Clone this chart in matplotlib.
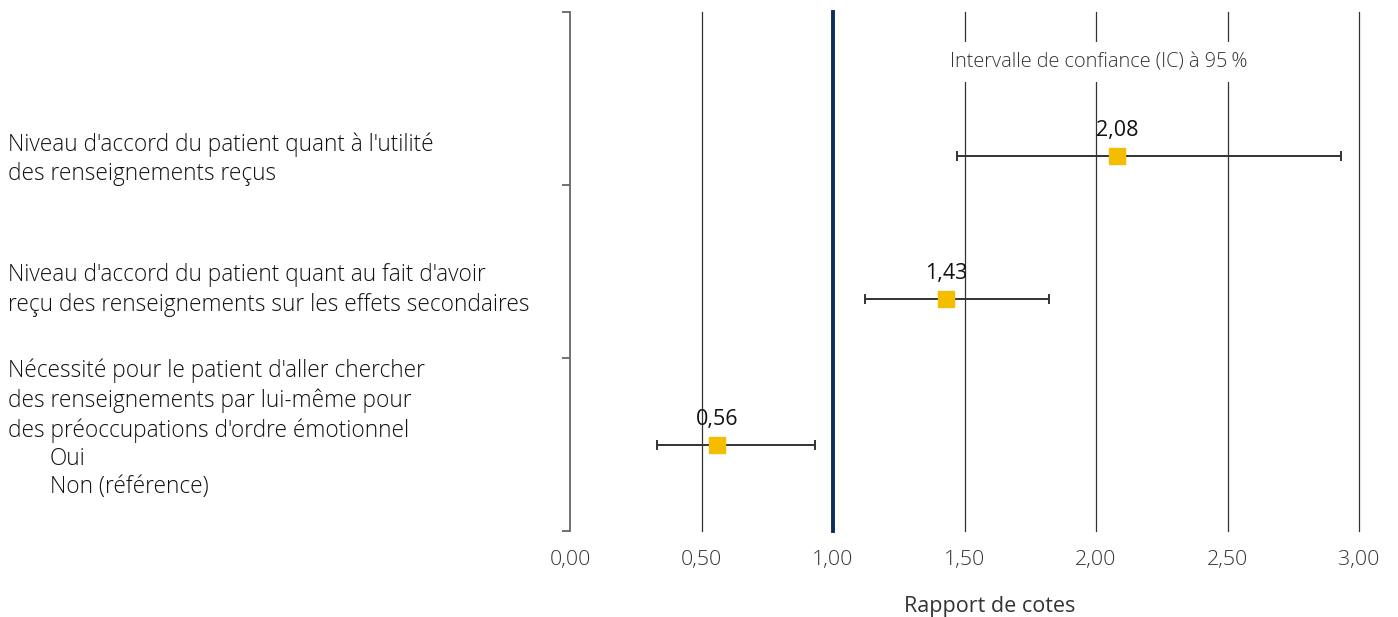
import matplotlib.pyplot as plt

plt.rcParams['font.family'] = ['Open Sans', 'DejaVu Sans']
plt.rcParams['font.weight'] = 'light'

# odds ratios with 95% confidence limits
ratios = [2.08, 1.43, 0.56]
ci_low = [1.47, 1.12, 0.33]
ci_high = [2.93, 1.82, 0.93]
ypos = [2.17, 1.34, 0.50]
labels = ["2,08", "1,43", "0,56"]
xticks = [0, 0.5, 1.0, 1.5, 2.0, 2.5, 3.0]
xticklabels = ["0,00", "0,50", "1,00", "1,50", "2,00", "2,50", "3,00"]

fig = plt.figure(figsize=(13.98, 6.17), dpi=100)
ax = fig.add_axes([570 / 1398, 1 - 531 / 617, 789 / 1398, 519 / 617])
ax.set_xlim(0, 3)
ax.set_ylim(0, 3)

# vertical gridlines, reference line at 1
for x in xticks[1:]:
    if x == 1.0:
        ax.axvline(x, color="#0b2d5e", lw=2.8, zorder=2, clip_on=False)
    else:
        ax.axvline(x, color="#333333", lw=0.9, zorder=1, clip_on=False)

err_lo = [r - l for r, l in zip(ratios, ci_low)]
err_hi = [h - r for r, h in zip(ratios, ci_high)]
ax.errorbar(ratios, ypos, xerr=[err_lo, err_hi], fmt="none", ecolor="#333333",
            elinewidth=1.4, capsize=3.5, capthick=1.4, zorder=3)
ax.plot(ratios, ypos, "s", color="#f5bd00", markersize=11.5, zorder=4)

for r, y, t in zip(ratios, ypos, labels):
    ax.text(r, y + 0.085, t, ha="center", va="bottom", fontsize=15.5,
            fontweight="normal", color="#111111")

ax.text(2.011, 2.71, "Intervalle de confiance (IC) à 95\u202f%", ha="center", va="center",
        fontsize=14.3, color="#333333", zorder=5,
        bbox=dict(facecolor="white", edgecolor="none", pad=7))

for side in ["top", "right", "bottom"]:
    ax.spines[side].set_visible(False)
ax.spines["left"].set_color("#666666")
ax.spines["left"].set_linewidth(1.3)

ax.set_yticks([0, 1, 2, 3])
ax.set_yticklabels([])
ax.tick_params(axis="y", length=6, width=1.3, color="#666666")
ax.set_xticks(xticks)
ax.set_xticklabels(xticklabels)
ax.tick_params(axis="x", length=0, pad=14, labelsize=15.4, labelcolor="#333333")

ax.set_xlabel("Rapport de cotes", fontsize=15.5, color="#333333")
ax.xaxis.set_label_coords((990 - 570) / 789, -0.125)

# category labels on the left
cat_kw = dict(fontsize=16.3, color="#111111", va="center", ha="left", linespacing=1.29)
fig.text(8 / 1398, 1 - 159 / 617,
         "Niveau d'accord du patient quant à l'utilité\ndes renseignements reçus", **cat_kw)
fig.text(8 / 1398, 1 - 290 / 617,
         "Niveau d'accord du patient quant au fait d'avoir\nreçu des renseignements sur les effets secondaires",
         **cat_kw)
fig.text(8 / 1398, 1 - 401 / 617,
         "Nécessité pour le patient d'aller chercher\ndes renseignements par lui-même pour\n"
         "des préoccupations d'ordre émotionnel", **cat_kw)
fig.text(50 / 1398, 1 - 459 / 617, "Oui", **cat_kw)
fig.text(50 / 1398, 1 - 487 / 617, "Non (référence)", **cat_kw)

fig.savefig("out.png", dpi=100)
